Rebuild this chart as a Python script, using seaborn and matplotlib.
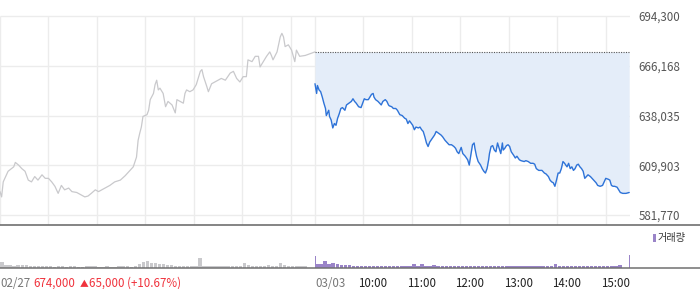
import numpy as np
import pandas as pd
import seaborn as sns
import matplotlib
matplotlib.use("Agg")
import matplotlib.pyplot as plt
from matplotlib.lines import Line2D
from matplotlib.patches import Rectangle
from matplotlib.transforms import blended_transform_factory

sns.set_style("white")
plt.rcParams['font.family'] = ['Noto Sans CJK KR', 'DejaVu Sans']

# ---------------- data ----------------
prev_close = 674000
y_ticks = [581770, 609903, 638035, 666168, 694300]
y_tick_labels = ["581,770", "609,903", "638,035", "666,168", "694,300"]
time_ticks = [390, 450, 510, 570, 630, 690, 750]
time_labels = ["03/03", "10:00", "11:00", "12:00", "13:00", "14:00", "15:00"]

# previous day (02/27), minutes since 09:00
prev_t = [0, 2, 4, 10, 17, 19, 23, 27, 31, 35, 39, 43, 47, 52, 56, 60, 64, 68, 72, 76,
          80, 85, 89, 95, 101, 105, 109, 113, 118, 122, 126, 130, 136, 142, 149, 155, 161, 165, 169, 171,
          173, 175, 177, 182, 184, 186, 190, 192, 194, 196, 198, 202, 205, 208, 213, 217, 219, 223, 227, 229,
          231, 235, 239, 243, 248, 250, 252, 256, 258, 262, 266, 270, 274, 279, 285, 289, 293, 297, 301, 305,
          307, 312, 316, 320, 322, 326, 330, 334, 336, 338, 343, 347, 349, 351, 353, 357, 361, 365, 367, 371,
          378, 384, 390]
prev_p = [595000, 592000, 600500, 606500, 609000, 611500, 610000, 608000, 606500, 601500,
          600500, 603500, 601500, 604500, 602500, 602500, 600500, 598000, 594000, 598500,
          596000, 597000, 595000, 594500, 593000, 592000, 592500, 594000, 596000, 595000,
          596000, 597000, 598500, 600500, 601500, 604000, 607000, 609000, 614500, 624000,
          628000, 631500, 637500, 638500, 641000, 647000, 650500, 655500, 658000, 652500,
          653500, 650500, 643000, 646000, 644000, 639500, 647000, 646000, 645000, 650500,
          652500, 651500, 652500, 655500, 663000, 664000, 660000, 654500, 651500, 656000,
          657000, 658000, 659000, 658000, 662000, 663000, 659000, 657000, 660000, 660000,
          669500, 668500, 671500, 671500, 665500, 668500, 671500, 674000, 672000, 669500,
          674000, 682500, 684500, 682500, 677000, 678000, 675000, 668500, 675000, 671500,
          672000, 673000, 674000]

# today (03/03), minutes since 09:00
today_t = [0, 2, 3, 5, 7, 9, 11, 13, 14, 17, 18, 20, 22, 24, 26, 28, 30, 32, 34, 37,
           39, 42, 45, 47, 49, 51, 54, 57, 59, 61, 63, 66, 68, 70, 72, 73, 75, 78, 80, 82,
           84, 87, 89, 91, 92, 95, 97, 100, 102, 105, 108, 111, 113, 115, 117, 121, 123, 125, 128, 130,
           132, 134, 136, 138, 140, 142, 145, 148, 150, 153, 156, 158, 161, 163, 166, 169, 172, 174, 176, 178,
           181, 183, 186, 189, 191, 192, 194, 195, 197, 198, 200, 202, 205, 207, 209, 211, 213, 215, 216, 218,
           220, 222, 224, 226, 228, 230, 232, 233, 235, 237, 239, 241, 243, 246, 248, 250, 253, 255, 259, 261,
           264, 267, 270, 272, 274, 277, 281, 284, 286, 289, 291, 293, 295, 297, 299, 301, 303, 305, 307, 309,
           312, 314, 316, 318, 320, 322, 324, 326, 328, 330, 332, 334, 336, 338, 341, 343, 345, 348, 350, 353,
           356, 358, 360, 363, 365, 367, 369, 371, 374, 376, 378, 381, 385, 389]
today_p = [656000, 650500, 655000, 652500, 651500, 648500, 645000, 642000, 638000, 641000,
           637500, 635500, 631000, 633500, 632500, 636500, 639000, 642000, 642500, 641000,
           644000, 645000, 646000, 647500, 646000, 645000, 643000, 642500, 645000, 647500,
           647000, 647000, 648500, 650000, 650500, 648500, 647000, 646000, 645000, 644000,
           646000, 647000, 646000, 644000, 643500, 643000, 642000, 642000, 641000, 638500,
           638000, 636500, 636000, 633500, 635000, 632500, 630000, 631500, 631000, 631500,
           630000, 629000, 626000, 622500, 620500, 623000, 625000, 627000, 629000, 628000,
           627000, 626000, 624000, 623000, 621500, 621500, 620500, 619500, 617500, 616500,
           620000, 616500, 615000, 613000, 610000, 613000, 618500, 621500, 622500, 619500,
           615000, 612000, 610000, 608000, 606500, 605500, 608000, 613000, 616500, 620500,
           621000, 618500, 617500, 622500, 619500, 616500, 622500, 618500, 619500, 621000,
           621500, 620500, 617500, 615500, 614000, 615000, 613000, 612500, 612000, 612500,
           612000, 611000, 611000, 610500, 608000, 607000, 607000, 605500, 605000, 603500,
           601500, 600500, 600000, 598000, 601500, 605500, 605500, 608000, 612000, 611000,
           609000, 611000, 608000, 609000, 607000, 608000, 610000, 610500, 609000, 608000,
           606500, 602500, 603500, 604500, 603500, 602500, 601500, 600000, 598500, 598000,
           598500, 600500, 602500, 602000, 601500, 598500, 598000, 598000, 597500, 596000,
           594500, 594000, 594000, 594500]

# volume (thousand shares), 5-minute bins 09:00-15:30
prev_vol = [60, 30, 25, 20, 25, 30, 25, 20, 20, 15,
            15, 20, 15, 10, 15, 15, 10, 15, 15, 10,
            10, 15, 20, 15, 10, 10, 15, 10, 10, 15,
            20, 15, 10, 15, 40, 55, 65, 45, 50, 40,
            35, 30, 25, 20, 20, 20, 15, 20, 15, 100,
            20, 15, 20, 15, 15, 20, 15, 15, 20, 15,
            50, 25, 20, 15, 15, 20, 25, 15, 15, 45,
            30, 20, 15, 15, 20, 15, 0, 0]
prev_close_vol = 360
today_vol = [40, 35, 70, 40, 50, 35, 30, 25, 30, 20,
             15, 20, 15, 20, 15, 15, 20, 15, 15, 20,
             15, 15, 20, 15, 40, 15, 40, 20, 15, 30,
             15, 15, 15, 15, 20, 15, 15, 15, 15, 15,
             15, 15, 15, 20, 15, 15, 15, 15, 15, 15,
             20, 15, 15, 15, 15, 15, 15, 15, 15, 40,
             20, 15, 15, 15, 15, 15, 15, 15, 15, 15,
             15, 15, 15, 15, 15, 30, 0, 0]
today_open_vol = 120
today_close_vol = 130

# ---------------- figure ----------------
W, H = 700, 289
fig = plt.figure(figsize=(7.0, 2.89), dpi=100)

px_per_min = 630 / 780
ax = fig.add_axes([0, (H - 225) / H, 630 / W, (225 - 14) / H])
vol_bottom_px = 267.6
axv = fig.add_axes([0, (H - vol_bottom_px) / H, 630 / W, 40 / H])

ymin = 581770 - 10 * 28132.5 / 49.75
ymax = 694300 + 2 * 28132.5 / 49.75
ax.set_xlim(0, 780)
ax.set_ylim(ymin, ymax)

grid_c = '#ececec'
for yv in y_ticks:
    ax.hlines(yv, 0, 780, color=grid_c, lw=1.0, zorder=0)
vx = [0, 60, 120, 180, 240, 300, 360, 390, 450, 510, 570, 630, 690, 750]
ax.vlines(vx, ymin, 694300, color=grid_c, lw=1.0, zorder=0)

prev_df = pd.DataFrame({'t': prev_t, 'p': prev_p})
today_df = pd.DataFrame({'t': [t + 390 for t in today_t], 'p': today_p})

ax.fill_between(today_df['t'], today_df['p'], prev_close, color='#e4edf9', lw=0, zorder=1)
ax.hlines(prev_close, 390, 780, color='#555555', lw=0.8, linestyles=(0, (1, 1.2)), zorder=2)
sns.lineplot(data=prev_df, x='t', y='p', ax=ax, color='#c9c9cc', lw=0.9, zorder=3)
sns.lineplot(data=today_df, x='t', y='p', ax=ax, color='#2e73d8', lw=1.0, zorder=4)

ax.set_xlabel('')
ax.set_ylabel('')
for s in ax.spines.values():
    s.set_visible(False)
ax.set_xticks([])
ax.yaxis.tick_right()
ax.set_yticks(y_ticks)
ax.set_yticklabels(y_tick_labels)
ax.tick_params(axis='y', length=0, pad=6, labelsize=8.3, labelcolor='#555555')

# volume
bins = np.arange(78) * 5 + 2.5
axv.bar(bins, prev_vol, width=4.2, color='#c9c9cc', lw=0)
axv.bar([390], [prev_close_vol], width=1.2, color='#c9c9cc', lw=0)
axv.bar(bins + 390, today_vol, width=4.2, color='#9a84c8', lw=0)
axv.bar([390.6], [today_open_vol], width=1.2, color='#9a84c8', lw=0)
axv.bar([779], [today_close_vol], width=1.2, color='#9a84c8', lw=0)
axv.set_xlim(0, 780)
axv.set_ylim(0, 400)
for s in axv.spines.values():
    s.set_visible(False)
axv.set_yticks([])
axv.set_xticks([0] + time_ticks)
axv.tick_params(axis='x', direction='out', length=3.2, width=1, color='#444444', labelbottom=False)

# separator lines
fig.add_artist(Line2D([0, 1], [(H - 225) / H] * 2, transform=fig.transFigure, color='#707070', lw=1.2))
fig.add_artist(Line2D([0, 1], [(H - 268.4) / H] * 2, transform=fig.transFigure, color='#707070', lw=1.1))

# bottom labels
tr = blended_transform_factory(axv.transData, fig.transFigure)
yb = (H - 287) / H
fs = 8.3
axv.text(390, yb, time_labels[0], transform=tr, ha='left', va='baseline', fontsize=fs, color='#777777')
for tk, lb in zip(time_ticks[1:], time_labels[1:]):
    axv.text(tk + 9.5 / px_per_min, yb, lb, transform=tr, ha='center', va='baseline', fontsize=fs, color='#222222')

fig.text(0 / W, yb, "02/27", ha='left', va='baseline', fontsize=fs, color='#777777')
fig.text(33 / W, yb, "674,000", ha='left', va='baseline', fontsize=fs, color='#f0323c')
fig.text(80 / W, yb, "▲", ha='left', va='baseline', fontsize=6.3, color='#f0323c')
fig.text(89 / W, yb, "65,000 (+10.67%)", ha='left', va='baseline', fontsize=fs, color='#f0323c')

# legend
fig.add_artist(Rectangle((652.5 / W, (H - 242) / H), 3.5 / W, 8 / H, transform=fig.transFigure,
                         color='#9a84c8', lw=0))
fig.text(658 / W, (H - 241) / H, "거래량", ha='left', va='baseline', fontsize=7.3, color='#333333')

fig.savefig('out.png', dpi=100)
